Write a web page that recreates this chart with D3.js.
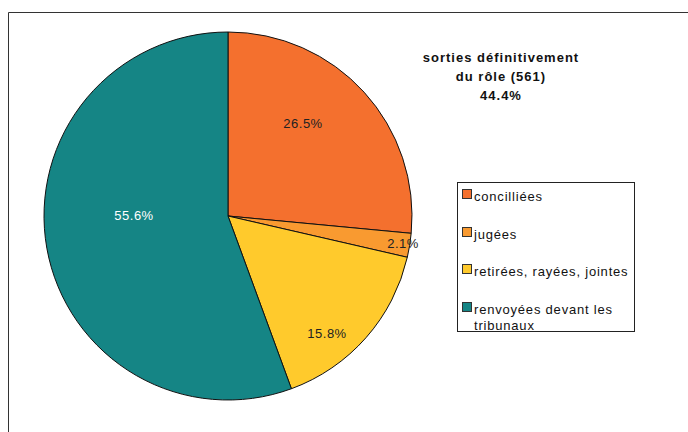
<!DOCTYPE html>
<html><head><meta charset="utf-8">
<script src="https://cdn.jsdelivr.net/npm/d3@7"></script>
<style>body{margin:0;background:#fff}svg{display:block}text{font-family:"Liberation Sans",Arial,sans-serif}</style>
</head><body><svg id="c" width="688" height="432"></svg>
<script>
const categories = ["concilliées", "jugées", "retirées, rayées, jointes", "renvoyées devant les tribunaux"];
const values = [26.5, 2.1, 15.8, 55.6];
const labels = ["26.5%", "2.1%", "15.8%", "55.6%"];
const colors = ["#F4702E", "#F99A30", "#FFCA2C", "#158585"];
const labelColors = ["#222", "#222", "#222", "#fff"];
const titleLines = ["sorties définitivement", "du rôle (561)", "44.4%"];

const svg = d3.select("#c");
// frame
svg.append("path").attr("d","M8.5,432 L8.5,12.5 L688,12.5").attr("fill","none").attr("stroke","#333").attr("stroke-width",1);

const cx = 228, cy = 216, r = 184;
const pie = d3.pie().sort(null).value(d => d);
const arcs = pie(values);
const arc = d3.arc().innerRadius(0).outerRadius(r);
const g = svg.append("g").attr("transform", `translate(${cx},${cy})`);
g.selectAll("path").data(arcs).join("path")
  .attr("d", arc).attr("fill", (d,i) => colors[i])
  .attr("stroke", "#111").attr("stroke-width", 1).attr("stroke-linejoin","round");

const labelPos = [[75,-93],[175,27],[99,117],[-94,-1]];
g.selectAll("text.l").data(arcs).join("text").attr("class","l")
  .attr("x",(d,i)=>labelPos[i][0]).attr("y",(d,i)=>labelPos[i][1])
  .attr("text-anchor","middle").attr("dominant-baseline","central")
  .attr("font-size",13).attr("letter-spacing",0.5).attr("fill",(d,i)=>labelColors[i])
  .text((d,i)=>labels[i]);

// title
svg.append("g").selectAll("text").data(titleLines).join("text")
  .attr("x",501).attr("y",(d,i)=>62+i*19).attr("text-anchor","middle")
  .attr("font-size",13).attr("font-weight","bold").attr("letter-spacing",1).attr("fill","#111")
  .text(d=>d);

// legend
const lg = svg.append("g");
lg.append("rect").attr("x",457.5).attr("y",182.5).attr("width",177).attr("height",149)
  .attr("fill","#fff").attr("stroke","#222").attr("stroke-width",1);
const ys = [196, 234, 271, 309];
categories.forEach((c,i)=>{
  lg.append("rect").attr("x",462.5).attr("y",ys[i]-6.5).attr("width",9).attr("height",9)
    .attr("fill",colors[i]).attr("stroke","#333").attr("stroke-width",1);
  const words = i===3 ? ["renvoyées devant les","tribunaux"] : [c];
  words.forEach((w,j)=>{
    lg.append("text").attr("x",474).attr("y",ys[i]+4.5+j*16).attr("font-size",13)
      .attr("letter-spacing",0.8).attr("fill","#111").text(w);
  });
});
</script></body></html>
